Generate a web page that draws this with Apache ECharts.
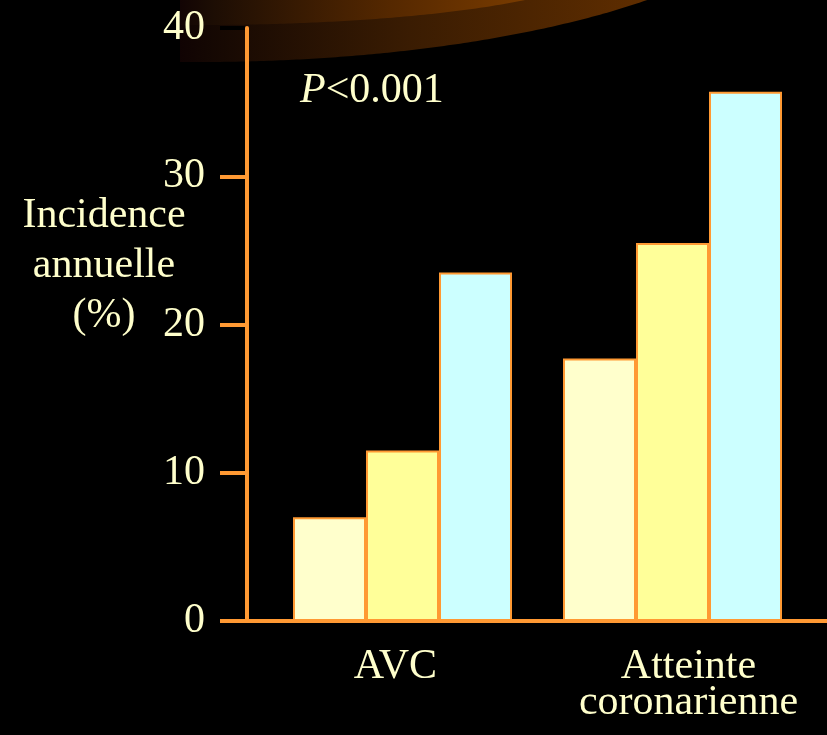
<!DOCTYPE html>
<html>
<head>
<meta charset="utf-8">
<script src="https://cdn.jsdelivr.net/npm/echarts@6/dist/echarts.min.js"></script>
<style>
  html, body { margin: 0; padding: 0; background: #000; }
  #chart { width: 827px; height: 735px; }
</style>
</head>
<body>
<div id="chart"></div>
<script>
// Annual incidence (%) by outcome, three groups per outcome
const categories = ['AVC', 'Atteinte coronarienne'];
const group1 = [7.0, 17.7];
const group2 = [11.5, 25.5];
const group3 = [23.5, 35.7];
const yTicks = [0, 10, 20, 30, 40];
const axisNameLines = ['Incidence', 'annuelle', '(%)'];
const pValueText = '<0.001';

const FONT = "'Liberation Serif', 'Times New Roman', serif";
const TEXT = '#FFFFCC';
const ORANGE = '#FF9933';
const gridLeft = 267.5, gridRight = 19.5, gridTop = 28, gridBottom = 114;
const yAxisOffset = 20.5;

const chart = echarts.init(document.getElementById('chart'), null, { renderer: 'canvas' });

function barSeries(name, data, color) {
  return {
    name: name,
    type: 'bar',
    data: data,
    barWidth: 73,
    barGap: '0%',
    itemStyle: { color: color, borderColor: ORANGE, borderWidth: 2 },
    z: 3
  };
}

// decorative swoosh along the top edge: lower edge follows an elliptical arc
function arcPolygon(cx, cy, rx, ry, xStart) {
  const pts = [[xStart, 0]];
  const xEnd = cx + rx * Math.sqrt(1 - Math.pow(cy / ry, 2));
  for (let x = xStart; x <= xEnd; x += 4) {
    const d = (x - cx) / rx;
    const y = cy + ry * Math.sqrt(Math.max(0, 1 - d * d));
    pts.push([x, Math.max(0, y)]);
  }
  pts.push([xEnd, 0]);
  return pts;
}

chart.setOption({
  backgroundColor: '#000000',
  animation: false,
  grid: { left: gridLeft, right: gridRight, top: gridTop, bottom: gridBottom, containLabel: false },
  xAxis: {
    type: 'category',
    data: categories,
    axisLine: { show: false },
    axisTick: { show: false },
    axisLabel: {
      margin: 28,
      interval: 0,
      formatter: function (v) {
        if (v === categories[0]) return '{a|' + v + '}';
        return v.split(' ').map(function (w) { return '{b|' + w + '}'; }).join('\n');
      },
      rich: {
        a: { color: TEXT, fontFamily: FONT, fontSize: 42, lineHeight: 36, padding: [0, 14, 0, 0] },
        b: { color: TEXT, fontFamily: FONT, fontSize: 42, lineHeight: 36, padding: [0, 0, 0, 32] }
      }
    }
  },
  yAxis: {
    type: 'value',
    z: 10,
    min: yTicks[0],
    max: yTicks[yTicks.length - 1],
    interval: 10,
    offset: yAxisOffset,
    splitLine: { show: false },
    axisLine: { show: true, lineStyle: { color: ORANGE, width: 4 } },
    axisTick: { show: true, length: 27, customValues: yTicks.slice(0, -1), lineStyle: { color: ORANGE, width: 4 } },
    axisLabel: { color: TEXT, fontFamily: FONT, fontSize: 42, margin: 42 }
  },
  series: [
    barSeries('Groupe 1', group1, '#FFFFCC'),
    barSeries('Groupe 2', group2, '#FFFF99'),
    barSeries('Groupe 3', group3, '#CCFFFF')
  ],
  graphic: [
    {
      id: 'swooshOuter',
      type: 'polygon',
      z: 0,
      silent: true,
      shape: { points: arcPolygon(200, -124, 600, 186, 180) },
      style: {
        lineWidth: 0,
        fill: {
          type: 'linear', x: 180, y: 0, x2: 640, y2: 0, global: true,
          colorStops: [
            { offset: 0, color: '#100303' },
            { offset: 0.07, color: '#150803' },
            { offset: 0.5, color: '#3a1c02' },
            { offset: 1, color: '#5e2d00' }
          ]
        }
      }
    },
    {
      id: 'swooshInner',
      type: 'polygon',
      z: 0,
      z2: 1,
      silent: true,
      shape: { points: arcPolygon(200, -35, 400, 60, 180) },
      style: {
        lineWidth: 0,
        fill: {
          type: 'linear', x: 180, y: 0, x2: 530, y2: 0, global: true,
          colorStops: [
            { offset: 0, color: '#120404' },
            { offset: 0.09, color: '#1c0d04' },
            { offset: 0.6, color: '#552800' },
            { offset: 1, color: '#7a3c00' }
          ]
        }
      }
    },
    {
      id: 'axisName',
      type: 'text',
      silent: true,
      x: 104,
      y: 266,
      style: {
        text: axisNameLines.join('\n'),
        fill: TEXT,
        font: '42px ' + FONT,
        lineHeight: 50,
        textAlign: 'center',
        textVerticalAlign: 'middle'
      }
    },
    {
      id: 'pValue',
      type: 'text',
      silent: true,
      x: 300,
      y: 91,
      style: {
        text: '{i|P}{n|' + pValueText + '}',
        textVerticalAlign: 'middle',
        rich: {
          i: { fill: TEXT, fontFamily: FONT, fontSize: 42, fontStyle: 'italic' },
          n: { fill: TEXT, fontFamily: FONT, fontSize: 42 }
        }
      }
    }
  ]
});

// baseline across the full plot width and the dark top tick, placed from the value scale
const axisX = gridLeft - yAxisOffset;
const y0 = chart.convertToPixel({ yAxisIndex: 0 }, yTicks[0]);
const yTop = chart.convertToPixel({ yAxisIndex: 0 }, yTicks[yTicks.length - 1]);
chart.setOption({
  graphic: [
    {
      id: 'baseline',
      type: 'line', silent: true, z: 20,
      shape: { x1: axisX - 2, y1: y0, x2: 827, y2: y0 },
      style: { stroke: ORANGE, lineWidth: 4 }
    },
    {
      id: 'topTick',
      type: 'line', silent: true, z: 20,
      shape: { x1: axisX - 27, y1: yTop, x2: axisX - 2, y2: yTop },
      style: { stroke: '#000000', lineWidth: 4 }
    }
  ]
});
</script>
</body>
</html>
